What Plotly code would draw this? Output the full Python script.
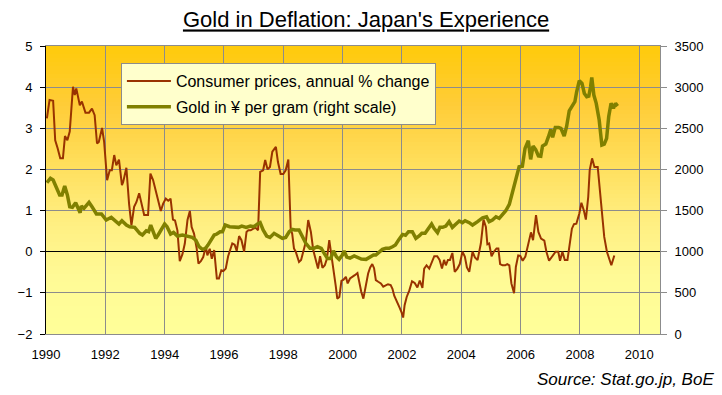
import plotly.graph_objects as go

# ---------------- data ----------------
cpi_dates = [
    1990.03, 1990.12, 1990.24, 1990.31, 1990.39, 1990.48, 1990.57, 1990.64, 1990.72, 1990.80,
    1990.91, 1990.97, 1991.02, 1991.14, 1991.21, 1991.33, 1991.45, 1991.55, 1991.64, 1991.72,
    1991.78, 1991.89, 1991.96, 1992.06, 1992.15, 1992.22, 1992.30, 1992.37, 1992.46, 1992.56,
    1992.60, 1992.71, 1992.80, 1992.88, 1992.97, 1993.05, 1993.14, 1993.21, 1993.31, 1993.44,
    1993.52, 1993.61, 1993.74, 1993.87, 1993.95, 1994.04, 1994.12, 1994.20, 1994.28, 1994.35,
    1994.43, 1994.51, 1994.60, 1994.68, 1994.77, 1994.85, 1994.91, 1994.99, 1995.08, 1995.14,
    1995.22, 1995.30, 1995.39, 1995.44, 1995.52, 1995.59, 1995.67, 1995.72, 1995.76, 1995.83,
    1995.91, 1995.98, 1996.06, 1996.14, 1996.21, 1996.28, 1996.36, 1996.43, 1996.51, 1996.59,
    1996.68, 1996.76, 1996.82, 1996.90, 1996.99, 1997.07, 1997.15, 1997.22, 1997.32, 1997.39,
    1997.47, 1997.55, 1997.63, 1997.75, 1997.82, 1997.91, 1998.00, 1998.08, 1998.17, 1998.25,
    1998.30, 1998.36, 1998.42, 1998.53, 1998.60, 1998.68, 1998.76, 1998.84, 1998.93, 1999.01,
    1999.09, 1999.17, 1999.24, 1999.32, 1999.40, 1999.47, 1999.55, 1999.63, 1999.69, 1999.77,
    1999.82, 1999.89, 1999.96, 2000.03, 2000.11, 2000.17, 2000.25, 2000.33, 2000.41, 2000.50,
    2000.56, 2000.63, 2000.70, 2000.78, 2000.86, 2000.93, 2001.00, 2001.06, 2001.12, 2001.20,
    2001.29, 2001.37, 2001.45, 2001.53, 2001.62, 2001.68, 2001.74, 2001.83, 2001.91, 2001.98,
    2002.04, 2002.09, 2002.16, 2002.25, 2002.34, 2002.43, 2002.52, 2002.60, 2002.69, 2002.75,
    2002.83, 2002.92, 2003.00, 2003.09, 2003.19, 2003.27, 2003.35, 2003.42, 2003.48, 2003.55,
    2003.62, 2003.70, 2003.78, 2003.87, 2003.95, 2004.04, 2004.12, 2004.19, 2004.27, 2004.32,
    2004.38, 2004.46, 2004.55, 2004.66, 2004.75, 2004.83, 2004.88, 2004.94, 2005.02, 2005.10,
    2005.19, 2005.25, 2005.31, 2005.39, 2005.48, 2005.55, 2005.62, 2005.69, 2005.78, 2005.84,
    2005.92, 2005.99, 2006.07, 2006.16, 2006.26, 2006.35, 2006.42, 2006.52, 2006.60, 2006.69,
    2006.80, 2006.87, 2006.96, 2007.07, 2007.18, 2007.27, 2007.33, 2007.41, 2007.49, 2007.58,
    2007.64, 2007.73, 2007.80, 2007.88, 2007.98, 2008.05, 2008.13, 2008.20, 2008.28, 2008.33,
    2008.41, 2008.49, 2008.60, 2008.65, 2008.74, 2008.82, 2008.91, 2008.98, 2009.06, 2009.16,
]
cpi_values = [
    3.24, 3.69, 3.67, 2.71, 2.52, 2.27, 2.27, 2.81, 2.71, 2.92,
    4.01, 3.81, 3.97, 3.56, 3.65, 3.38, 3.38, 3.48, 3.32, 2.63,
    2.67, 3.01, 2.67, 1.74, 1.98, 1.98, 2.35, 2.10, 2.24, 1.62,
    1.69, 2.04, 1.17, 0.64, 1.09, 1.21, 1.42, 1.17, 0.89, 0.89,
    1.90, 1.74, 1.33, 0.99, 1.17, 1.29, 1.24, 1.29, 0.78, 0.76,
    0.52, -0.23, -0.06, 0.20, 0.77, 0.99, 0.60, 0.44, 0.08, -0.29,
    -0.23, -0.13, 0.13, -0.09, 0.07, -0.17, 0.04, -0.29, -0.65, -0.65,
    -0.45, -0.47, -0.41, -0.11, 0.08, 0.20, 0.17, 0.02, 0.38, 0.28,
    0.00, 0.48, 0.52, 0.52, 0.56, 0.58, 0.52, 1.94, 1.98, 2.23,
    2.00, 2.06, 2.43, 2.55, 2.18, 1.89, 1.89, 1.98, 2.24, 0.55,
    0.44, 0.08, 0.00, -0.25, -0.20, 0.04, 0.24, 0.77, 0.48, 0.04,
    -0.20, -0.41, -0.11, -0.39, -0.33, -0.17, 0.28, -0.09, -0.45, -0.84,
    -1.14, -1.10, -0.71, -0.68, -0.61, -0.77, -0.65, -0.60, -0.57, -0.52,
    -0.77, -0.98, -1.14, -0.85, -0.53, -0.38, -0.30, -0.40, -0.69, -0.73,
    -0.77, -0.85, -0.81, -0.79, -0.81, -0.90, -1.07, -1.20, -1.34, -1.46,
    -1.60, -1.30, -1.10, -0.94, -0.72, -0.76, -0.87, -0.70, -0.88, -0.41,
    -0.33, -0.41, -0.25, -0.11, -0.11, -0.20, -0.41, -0.20, -0.33, -0.20,
    -0.20, -0.03, -0.49, -0.41, -0.30, 0.00, -0.12, -0.38, -0.49, -0.20,
    0.00, -0.14, -0.20, 0.20, 0.78, 0.60, 0.18, 0.20, -0.11, 0.00,
    0.08, 0.08, -0.30, -0.33, -0.33, -0.30, -0.33, -0.77, -1.01, -0.37,
    -0.09, -0.10, -0.22, -0.12, 0.16, 0.47, 0.28, 0.89, 0.48, 0.32,
    0.27, 0.00, -0.22, -0.12, 0.00, 0.00, -0.22, 0.00, -0.20, -0.20,
    0.16, 0.56, 0.67, 0.68, 0.93, 1.19, 1.01, 0.78, 1.33, 1.98,
    2.27, 2.06, 2.06, 1.66, 1.01, 0.36, 0.00, -0.14, -0.33, -0.09,
]

gold_dates = [
    1990.03, 1990.15, 1990.24, 1990.35, 1990.46, 1990.54, 1990.63, 1990.72, 1990.80, 1990.89,
    1991.00, 1991.15, 1991.19, 1991.28, 1991.45, 1991.55, 1991.70, 1991.87, 1992.03, 1992.20,
    1992.35, 1992.46, 1992.56, 1992.71, 1992.82, 1992.99, 1993.16, 1993.25, 1993.38, 1993.46,
    1993.53, 1993.61, 1993.70, 1993.78, 1993.89, 1994.00, 1994.08, 1994.20, 1994.30, 1994.43,
    1994.60, 1994.77, 1994.93, 1995.05, 1995.16, 1995.27, 1995.38, 1995.46, 1995.55, 1995.67,
    1995.76, 1995.87, 1995.95, 1996.04, 1996.19, 1996.36, 1996.49, 1996.60, 1996.75, 1996.89,
    1997.01, 1997.13, 1997.22, 1997.32, 1997.44, 1997.55, 1997.69, 1997.84, 1997.97, 1998.08,
    1998.20, 1998.30, 1998.39, 1998.53, 1998.64, 1998.76, 1998.90, 1999.03, 1999.15, 1999.28,
    1999.38, 1999.49, 1999.60, 1999.69, 1999.79, 1999.88, 1999.99, 2000.05, 2000.14, 2000.25,
    2000.39, 2000.50, 2000.63, 2000.79, 2000.94, 2001.04, 2001.12, 2001.23, 2001.34, 2001.46,
    2001.57, 2001.68, 2001.78, 2001.90, 2002.02, 2002.12, 2002.22, 2002.35, 2002.47, 2002.58,
    2002.67, 2002.78, 2002.90, 2003.00, 2003.08, 2003.20, 2003.28, 2003.37, 2003.48, 2003.59,
    2003.70, 2003.81, 2003.93, 2004.04, 2004.13, 2004.27, 2004.38, 2004.55, 2004.72, 2004.85,
    2004.94, 2005.05, 2005.17, 2005.28, 2005.39, 2005.50, 2005.62, 2005.73, 2005.84, 2005.95,
    2006.06, 2006.15, 2006.26, 2006.34, 2006.42, 2006.51, 2006.60, 2006.68, 2006.74, 2006.85,
    2006.94, 2007.02, 2007.08, 2007.17, 2007.28, 2007.36, 2007.47, 2007.55, 2007.64, 2007.75,
    2007.83, 2007.89, 2007.98, 2008.07, 2008.15, 2008.23, 2008.30, 2008.36, 2008.40, 2008.47,
    2008.55, 2008.65, 2008.74, 2008.82, 2008.90, 2008.97, 2009.05, 2009.13, 2009.20, 2009.27,
]
gold_values = [
    1838, 1892, 1872, 1790, 1689, 1689, 1798, 1689, 1547, 1539,
    1595, 1474, 1555, 1527, 1600, 1547, 1458, 1458, 1385, 1418,
    1377, 1337, 1377, 1324, 1304, 1296, 1223, 1203, 1255, 1243,
    1324, 1243, 1162, 1203, 1264, 1337, 1304, 1215, 1235, 1191,
    1203, 1191, 1174, 1142, 1061, 1029, 1041, 1081, 1142, 1203,
    1215, 1243, 1243, 1324, 1304, 1304, 1296, 1312, 1296, 1312,
    1304, 1337, 1353, 1264, 1191, 1174, 1223, 1191, 1162, 1174,
    1243, 1272, 1264, 1264, 1183, 1102, 1041, 1041, 1061, 1041,
    980, 919, 919, 1012, 939, 907, 960, 1008, 935, 923,
    948, 935, 911, 907, 940, 960, 960, 1000, 1028, 1041,
    1041, 1061, 1081, 1150, 1210, 1200, 1243, 1243, 1162, 1191,
    1223, 1223, 1284, 1337, 1284, 1231, 1296, 1296, 1312, 1365,
    1296, 1337, 1373, 1353, 1377, 1353, 1324, 1365, 1413, 1425,
    1365, 1385, 1425, 1405, 1445, 1498, 1575, 1720, 1900, 2033,
    2040, 2256, 2349, 2122, 2284, 2240, 2163, 2159, 2284, 2308,
    2398, 2487, 2390, 2511, 2511, 2499, 2406, 2519, 2713, 2770,
    2823, 2944, 3078, 3045, 2924, 2883, 2891, 3005, 3119, 2904,
    2803, 2600, 2296, 2308, 2378, 2640, 2803, 2742, 2803, 2770,
]

x_ticks = [1990, 1992, 1994, 1996, 1998, 2000, 2002, 2004, 2006, 2008, 2010]
x_tick_labels = ["1990", "1992", "1994", "1996", "1998", "2000", "2002", "2004", "2006", "2008", "2010"]
left_ticks = [-2, -1, 0, 1, 2, 3, 4, 5]
right_ticks = [0, 500, 1000, 1500, 2000, 2500, 3000, 3500]

cpi_name = "Consumer prices, annual % change"
gold_name = "Gold in ¥ per gram (right scale)"
title_text = "Gold in Deflation: Japan's Experience"
source_text = "Source: Stat.go.jp, BoE"

# ---------------- styling ----------------
FONT = "Liberation Sans, Arial, sans-serif"
GRID = "#8c8c8c"

fig = go.Figure()
fig.add_trace(go.Scatter(x=cpi_dates, y=cpi_values, name=cpi_name, mode="lines", legendgroup="a",
                         line=dict(color="#993300", width=2), yaxis="y"))
fig.add_trace(go.Scatter(x=gold_dates, y=gold_values, name=gold_name, mode="lines", legendgroup="b",
                         line=dict(color="#808000", width=3.5), yaxis="y2"))

# vertical gradient background (bands drawn below grid)
stops = [(0.0, (255, 255, 153)), (0.2, (255, 250, 150)), (0.4, (255, 238, 128)),
         (0.6, (255, 222, 90)), (0.8, (255, 204, 55)), (1.0, (255, 203, 10))]


def col_at(f):
    for (f0, c0), (f1, c1) in zip(stops[:-1], stops[1:]):
        if f0 <= f <= f1:
            u = (f - f0) / (f1 - f0)
            return "rgb(%d,%d,%d)" % tuple(round(a + (b - a) * u) for a, b in zip(c0, c1))
    return "rgb(%d,%d,%d)" % stops[-1][1]


shapes = []
n = 72
for i in range(n):
    y0 = i / n
    y1 = (i + 1) / n
    shapes.append(dict(type="rect", xref="x domain", yref="y domain", x0=0, x1=1, y0=y0, y1=y1,
                       fillcolor=col_at((y0 + y1) / 2), line=dict(width=0), layer="below"))

fig.update_layout(
    width=722, height=395,
    margin=dict(l=46, r=62, t=46, b=61),
    paper_bgcolor="white",
    plot_bgcolor="rgba(0,0,0,0)",
    font=dict(family=FONT, size=13, color="black"),
    title=dict(text="<u>" + title_text + "</u>", x=0.507, xanchor="center", y=0.95, yanchor="middle",
               font=dict(family=FONT, size=22, color="black")),
    shapes=shapes,
    showlegend=True,
    legend=dict(x=0.122, y=0.941, xanchor="left", yanchor="top",
                bgcolor="#FFFFCC", bordercolor="#8c8c8c", borderwidth=1,
                font=dict(family=FONT, size=16, color="black"),
                tracegroupgap=2, itemwidth=44),
    xaxis=dict(range=[1990, 2010.7], tickmode="array", tickvals=x_ticks, ticktext=x_tick_labels,
               showgrid=True, gridcolor=GRID, gridwidth=1, zeroline=False,
               showline=True, linecolor=GRID, linewidth=1, mirror=True, ticks="",
               tickfont=dict(family=FONT, size=13, color="black"), ticklabelstandoff=8),
    yaxis=dict(range=[-2, 5], tickmode="array", tickvals=left_ticks,
               showgrid=True, gridcolor=GRID, gridwidth=1,
               zeroline=True, zerolinecolor="black", zerolinewidth=1,
               showline=True, linecolor="black", linewidth=1, ticks="outside", ticklen=5,
               tickcolor="black", ticklabelstandoff=5,
               tickfont=dict(family=FONT, size=13, color="black")),
    yaxis2=dict(range=[0, 3500], tickmode="array", tickvals=right_ticks, overlaying="y", side="right",
                showgrid=False, zeroline=False, showline=True, linecolor=GRID, linewidth=1,
                ticks="outside", ticklen=6, tickcolor=GRID, ticklabelstandoff=5,
                tickfont=dict(family=FONT, size=13, color="black")),
    annotations=[dict(text="<i>" + source_text + "</i>", xref="paper", yref="paper",
                      x=1.0 + 56 / 614, y=-(379 - 334) / 288, xanchor="right", yanchor="middle",
                      showarrow=False, font=dict(family=FONT, size=17, color="black"))],
)

fig.write_html("out.html", config={"displayModeBar": False},
               post_script="document.body.style.margin='0';")
